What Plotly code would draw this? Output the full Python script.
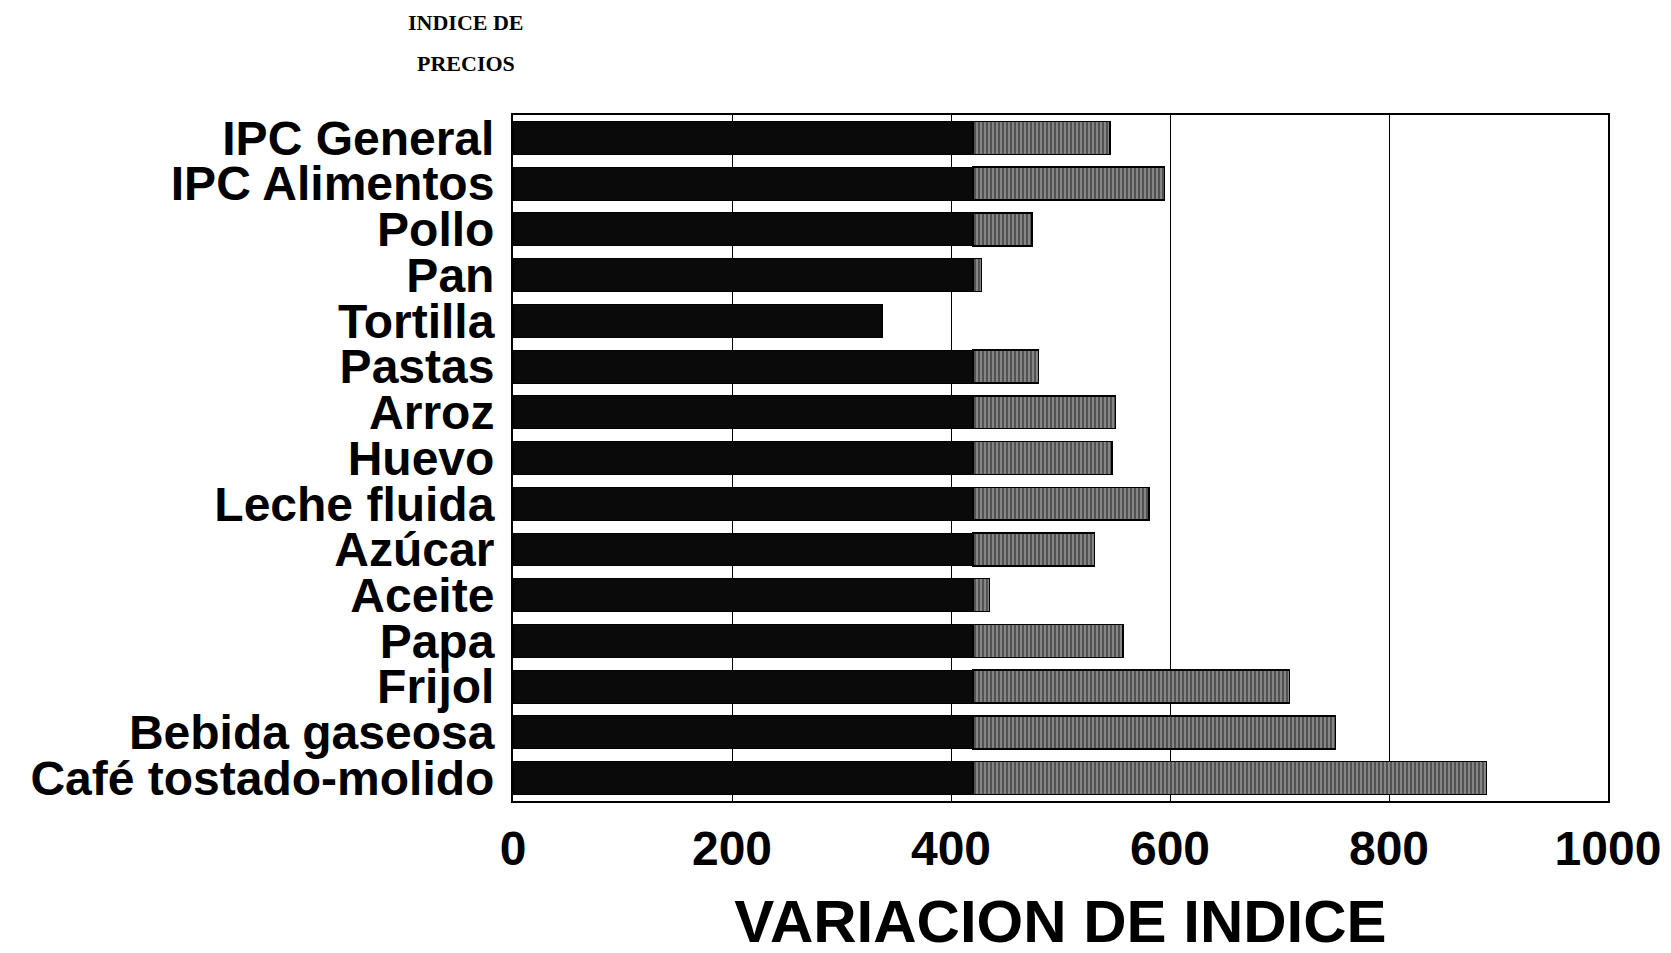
import plotly.graph_objects as go

# Data
productos = ["IPC General", "IPC Alimentos", "Pollo", "Pan", "Tortilla", "Pastas",
             "Arroz", "Huevo", "Leche fluida", "Azúcar", "Aceite", "Papa", "Frijol",
             "Bebida gaseosa", "Café tostado-molido"]
variacion = [545, 595, 474, 428, 337, 480, 550, 547, 581, 531, 435, 557, 709, 751, 889]
x_ticks = [0, 200, 400, 600, 800, 1000]

# dark part of each bar, the rest is drawn with a hatched fill
corte = 420
parte_oscura = [min(v, corte) for v in variacion]
parte_clara = [v - o for v, o in zip(variacion, parte_oscura)]

FONT = "Liberation Sans"
W, H = 1671, 953
OFF = 8  # page body margin
L, T, R, B = 513 - OFF, 115 - OFF, W - 1608 + OFF, H - 801 + OFF

fig = go.Figure()

fig.add_trace(go.Bar(
    y=productos, x=parte_oscura, orientation="h",
    marker=dict(color="#0a0a0a", line=dict(color="black", width=1)),
    showlegend=False,
))
fig.add_trace(go.Bar(
    y=productos, x=parte_clara, orientation="h",
    marker=dict(color="#6a6a6a", line=dict(color="black", width=1.5),
                pattern=dict(shape="|", fgcolor="#1a1a1a", bgcolor="#8a8a8a",
                             size=4, solidity=0.55)),
    showlegend=False,
))

fig.update_layout(
    width=W, height=H,
    barmode="stack", bargap=0.28,
    plot_bgcolor="white", paper_bgcolor="white",
    margin=dict(l=L, r=R, t=T, b=B, autoexpand=False),
    font=dict(family=FONT, color="black"),
)

fig.update_xaxes(
    range=[0, 1000], tickvals=x_ticks,
    showgrid=True, gridcolor="black", gridwidth=1.2,
    showline=True, linecolor="black", linewidth=2, mirror=True,
    zeroline=False, automargin=False,
    tickfont=dict(family=FONT, size=48, color="black", weight="bold"),
    ticklabelstandoff=4,
    title=dict(text="VARIACION DE INDICE",
               font=dict(family=FONT, size=60, color="black", weight="bold"),
               standoff=26),
)
fig.update_yaxes(
    autorange="reversed", tickmode="array", tickvals=productos,
    showline=True, linecolor="black", linewidth=2, mirror=True,
    showgrid=False, automargin=False,
    tickfont=dict(family=FONT, size=48, color="black", weight="bold"),
    ticklabelstandoff=7,
)


def px_to_paper(x, y):
    return (x - OFF - L) / (W - L - R), 1 + (T - (y - OFF)) / (H - T - B)


for texto, (px, py) in [("INDICE DE", (466, 22)), ("PRECIOS", (466, 63))]:
    ax, ay = px_to_paper(px, py)
    fig.add_annotation(text=texto, x=ax, y=ay, xref="paper", yref="paper",
                       xanchor="center", yanchor="middle", showarrow=False,
                       font=dict(family="Liberation Serif", size=22, weight="bold"))

fig.write_html("out.html")
